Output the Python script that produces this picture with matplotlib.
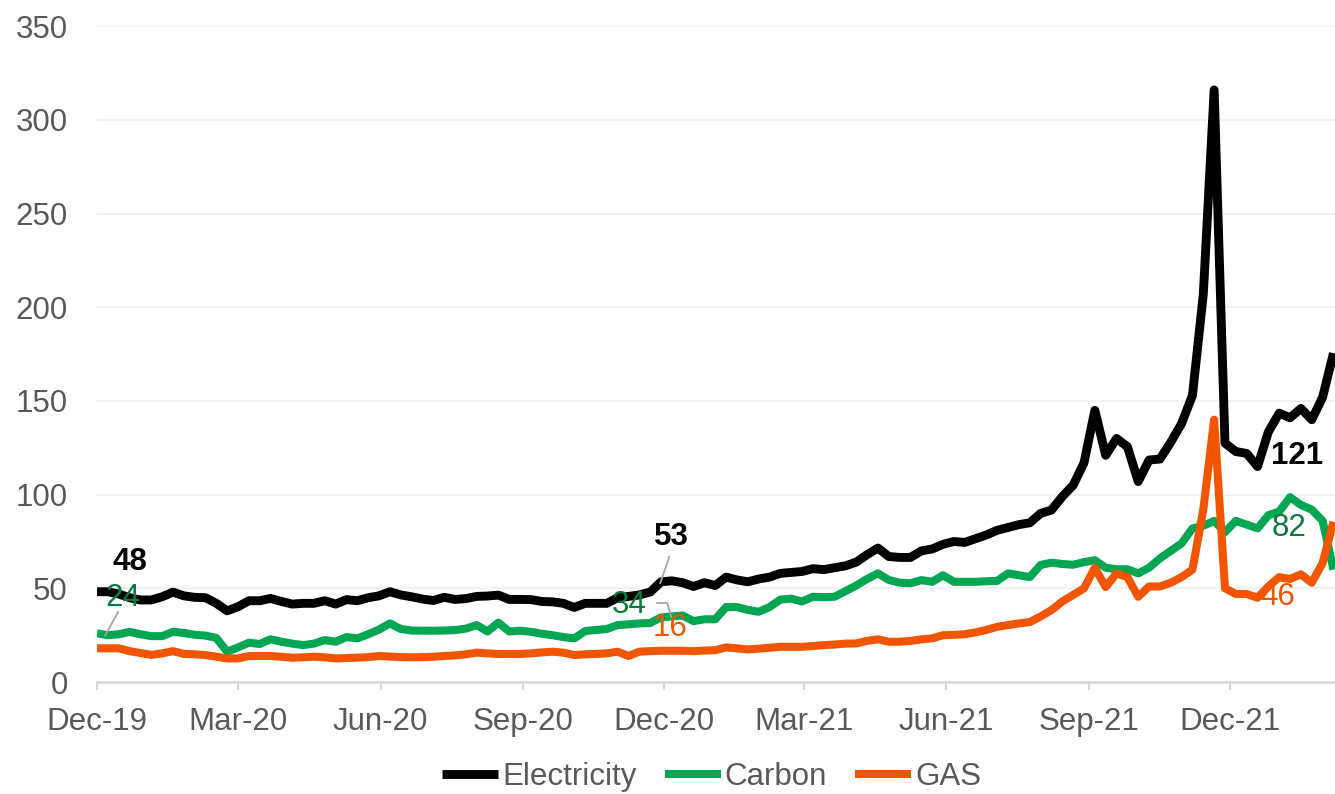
import matplotlib
matplotlib.use('Agg')
import matplotlib.pyplot as plt
import matplotlib.dates as mdates
import pandas as pd

plt.rcParams['font.family'] = ['Liberation Sans', 'DejaVu Sans']

# weekly prices, Dec-19 to Feb-22
weeks = pd.date_range('2019-12-01', periods=115, freq='7D')

electricity = [
    48.2, 48.2, 47, 45, 43.8, 43.8, 45.5, 48, 46, 45.2,
    45, 42, 38, 40.2, 43.4, 43.4, 44.6, 43, 41.6, 42,
    42, 43.4, 41.6, 44, 43.4, 45, 46, 48.2, 46.5, 45.5,
    44.3, 43.5, 45.2, 44.1, 44.5, 45.7, 45.9, 46.4, 44.1, 44.1,
    44, 43, 42.8, 42, 39.8, 42, 42, 42, 45, 45.7,
    46.5, 48, 53.5, 54, 53, 51, 53, 51.5, 56, 54.5,
    53.5, 55, 56, 58, 58.5, 59, 60.5, 60, 61, 62,
    64, 68, 71.5, 67, 66.5, 66.5, 70, 71, 73.5, 75,
    74.5, 76.5, 78.5, 81, 82.5, 84, 85, 90, 91.8, 99,
    105, 117, 145, 121, 130, 125.6, 107, 118.5, 119, 128,
    138, 153, 207, 316, 127.5, 123, 122, 115, 133.5, 143.5,
    141, 146, 140, 152, 175.5,
]

carbon = [
    26, 25, 25.5, 26.8, 25.5, 24.5, 24.5, 26.8, 26.2, 25.2,
    24.8, 23.5, 16.2, 18.5, 21, 20.3, 22.8, 21.5, 20.5, 19.7,
    20.5, 22.4, 21.5, 24, 23.3, 25.5, 28, 31.3, 28.3, 27.5,
    27.4, 27.4, 27.5, 27.7, 28.5, 30.4, 27, 31.7, 27, 27.4,
    26.8, 25.8, 25, 24, 23.3, 27.2, 27.8, 28.3, 30.4, 30.8,
    31.3, 31.5, 34.5, 35, 35.5, 32.5, 33.5, 33.5, 40, 40,
    38.5, 37.5, 40, 44, 44.5, 43, 45.5, 45.3, 45.5, 48.5,
    51.5, 55, 58, 54.5, 53, 52.7, 54.4, 53.5, 57, 53.5,
    53.5, 53.5, 53.8, 54, 58, 57, 56, 62.5, 63.7, 63,
    62.6, 64, 65, 61, 60.2, 60.2, 58, 61, 66, 70,
    74, 82, 83.4, 86, 80, 86, 84, 82, 89, 91,
    98.7, 94.5, 92, 86, 60,
]

gas = [
    18, 18, 18, 16.5, 15.5, 14.5, 15.3, 16.5, 15, 14.8,
    14.4, 13.5, 12.6, 12.6, 13.9, 13.9, 13.9, 13.5, 13, 13.2,
    13.5, 13.2, 12.6, 12.8, 13, 13.3, 13.9, 13.6, 13.3, 13.2,
    13.3, 13.5, 13.9, 14.2, 14.8, 15.7, 15.3, 15, 15, 15,
    15.3, 15.8, 16.2, 15.7, 14.4, 14.8, 15, 15.3, 16.2, 13.9,
    16.2, 16.5, 16.7, 16.7, 16.7, 16.5, 16.8, 17, 18.5, 18,
    17.4, 17.8, 18.3, 18.8, 18.8, 18.8, 19.2, 19.7, 20, 20.5,
    20.6, 22, 22.8, 21.5, 21.5, 21.9, 22.8, 23.3, 25, 25.2,
    25.5, 26.5, 27.8, 29.5, 30.4, 31.3, 32, 35, 38.4, 43,
    46.5, 50, 61, 50.7, 58, 56, 45.5, 51, 51, 53,
    56, 60, 92, 140, 50, 47, 47, 45, 51, 56,
    55, 57.5, 53, 63.5, 85.5,
]

series_labels = ['Electricity', 'Carbon', 'GAS']
line_colors = ['#000000', '#00A651', '#F25500']
line_widths = [6.4, 5.8, 5.8]
label_green = '#0B7A3E'
grey = '#595959'

start = weeks[0]


def day(n):
    # date n days after the first week
    return start + pd.Timedelta(days=n)


fig = plt.figure(figsize=(13.35, 7.94), dpi=100)
ax = fig.add_axes([0.0727, 0.141, 0.9273, 0.826])

for vals, name, col, lw in zip([electricity, carbon, gas], series_labels, line_colors, line_widths):
    ax.plot(weeks, vals, color=col, lw=lw, label=name,
            solid_joinstyle='round', solid_capstyle='butt')

ax.set_ylim(0, 350)
ax.set_yticks(range(0, 351, 50))
ax.set_xlim(weeks[0], weeks[-1] + pd.Timedelta(days=1))

ax.xaxis.set_major_locator(mdates.MonthLocator(bymonth=[3, 6, 9, 12]))
ax.xaxis.set_major_formatter(mdates.DateFormatter('%b-%y'))

ax.yaxis.grid(True, color='#EFEFEF', lw=1.2)
ax.set_axisbelow(True)
for side in ['top', 'right', 'left']:
    ax.spines[side].set_visible(False)
ax.spines['bottom'].set_color('#D9D9D9')
ax.spines['bottom'].set_linewidth(2)

ax.tick_params(axis='y', length=0, pad=21, labelsize=22.5, labelcolor=grey)
ax.tick_params(axis='x', length=6, width=1.5, color='#D9D9D9', pad=12,
               labelsize=22.5, labelcolor=grey)

# data labels
lead = dict(color='#A6A6A6', lw=1.3)
ax.plot([day(5.2), day(13.6)], [24.8, 37.4], **lead)
ax.plot([day(363.5), day(369.3)], [52.8, 66.7], **lead)
ax.plot([day(361.5), day(368), day(370.6)], [42.2, 42.2, 34.7], **lead)

ax.text(day(21.3), 64, '48', ha='center', va='center', fontsize=22.5,
        fontweight='bold', color='black')
ax.text(day(16.8), 45, '24', ha='center', va='center', fontsize=22.5,
        color=label_green)
ax.text(day(370.6), 77.4, '53', ha='center', va='center', fontsize=22.5,
        fontweight='bold', color='black')
ax.text(day(343.4), 41.1, '34', ha='center', va='center', fontsize=22.5,
        color=label_green)
ax.text(day(369.9), 28.8, '16', ha='center', va='center', fontsize=22.5,
        color=line_colors[2])
ax.text(day(774.7), 120.6, '121', ha='center', va='center', fontsize=22.5,
        fontweight='bold', color='black')
ax.text(day(769.5), 82.2, '82', ha='center', va='center', fontsize=22.5,
        color=label_green)
ax.text(day(761.8), 45.4, '46', ha='center', va='center', fontsize=22.5,
        color=line_colors[2])

leg = fig.legend(loc='center', bbox_to_anchor=(0.533, 0.021), ncol=3,
                 frameon=False, fontsize=22.5, handlelength=1.8,
                 handletextpad=0.12, columnspacing=0.9)
for t in leg.get_texts():
    t.set_color(grey)

fig.savefig('out.png', dpi=100)
